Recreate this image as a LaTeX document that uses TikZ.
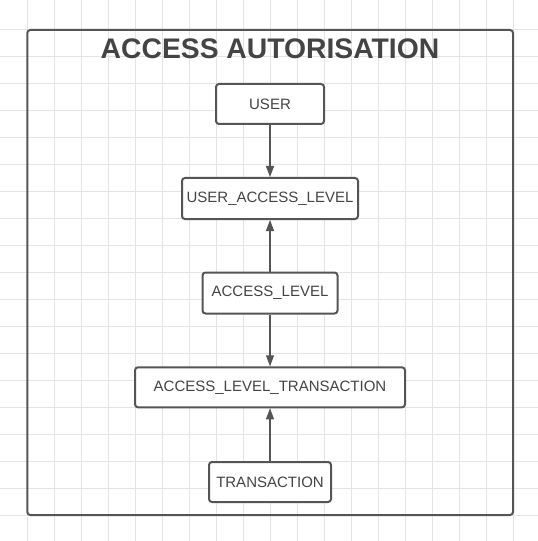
\documentclass[tikz,border=0pt]{standalone}
\usepackage{fontspec}
\setmainfont{Liberation Sans}
\usetikzlibrary{arrows.meta}
\definecolor{gridc}{HTML}{E4E4E4}
\definecolor{linec}{HTML}{555555}
\definecolor{textc}{HTML}{444444}
\tikzset{
  entity/.style={draw=linec, line width=2bp, rounded corners=3bp, fill=white,
    text=textc, font=\fontsize{15bp}{18bp}\selectfont, inner sep=0pt, anchor=center},
  conn/.style={draw=linec, line width=1.3bp, -{Triangle[length=11bp,width=8bp]}},
}
\begin{document}
\begin{tikzpicture}[x=1bp,y=-1bp]
\useasboundingbox (0,0) rectangle (538,541);
\fill[white] (0,0) rectangle (538,541);
\foreach \k in {1,...,19} {
  \draw[gridc, line width=1bp] ({27.05*\k},0) -- ({27.05*\k},541);
  \draw[gridc, line width=1bp] (0,{2+27.05*\k}) -- (538,{2+27.05*\k});
}
\draw[linec, line width=2bp, rounded corners=3bp] (27.3,30) rectangle (513,515);
\node[text=textc, font=\fontsize{28.3bp}{30bp}\selectfont\bfseries] (title) at (270,48.5) {ACCESS AUTORISATION};
\node[entity, minimum width=108bp, minimum height=40bp] (user) at (270,104) {USER};
\node[entity, minimum width=176bp, minimum height=41bp] (ual) at (270,198.5) {USER\_ACCESS\_LEVEL};
\node[entity, minimum width=135bp, minimum height=41bp] (al) at (270,293) {ACCESS\_LEVEL};
\node[entity, minimum width=270bp, minimum height=40bp] (alt) at (270,387.3) {ACCESS\_LEVEL\_TRANSACTION};
\node[entity, minimum width=122bp, minimum height=40bp] (tr) at (270,482) {TRANSACTION};
\draw[conn] (user) -- (ual);
\draw[conn] (al) -- (ual);
\draw[conn] (al) -- (alt);
\draw[conn] (tr) -- (alt);
\end{tikzpicture}
\end{document}
